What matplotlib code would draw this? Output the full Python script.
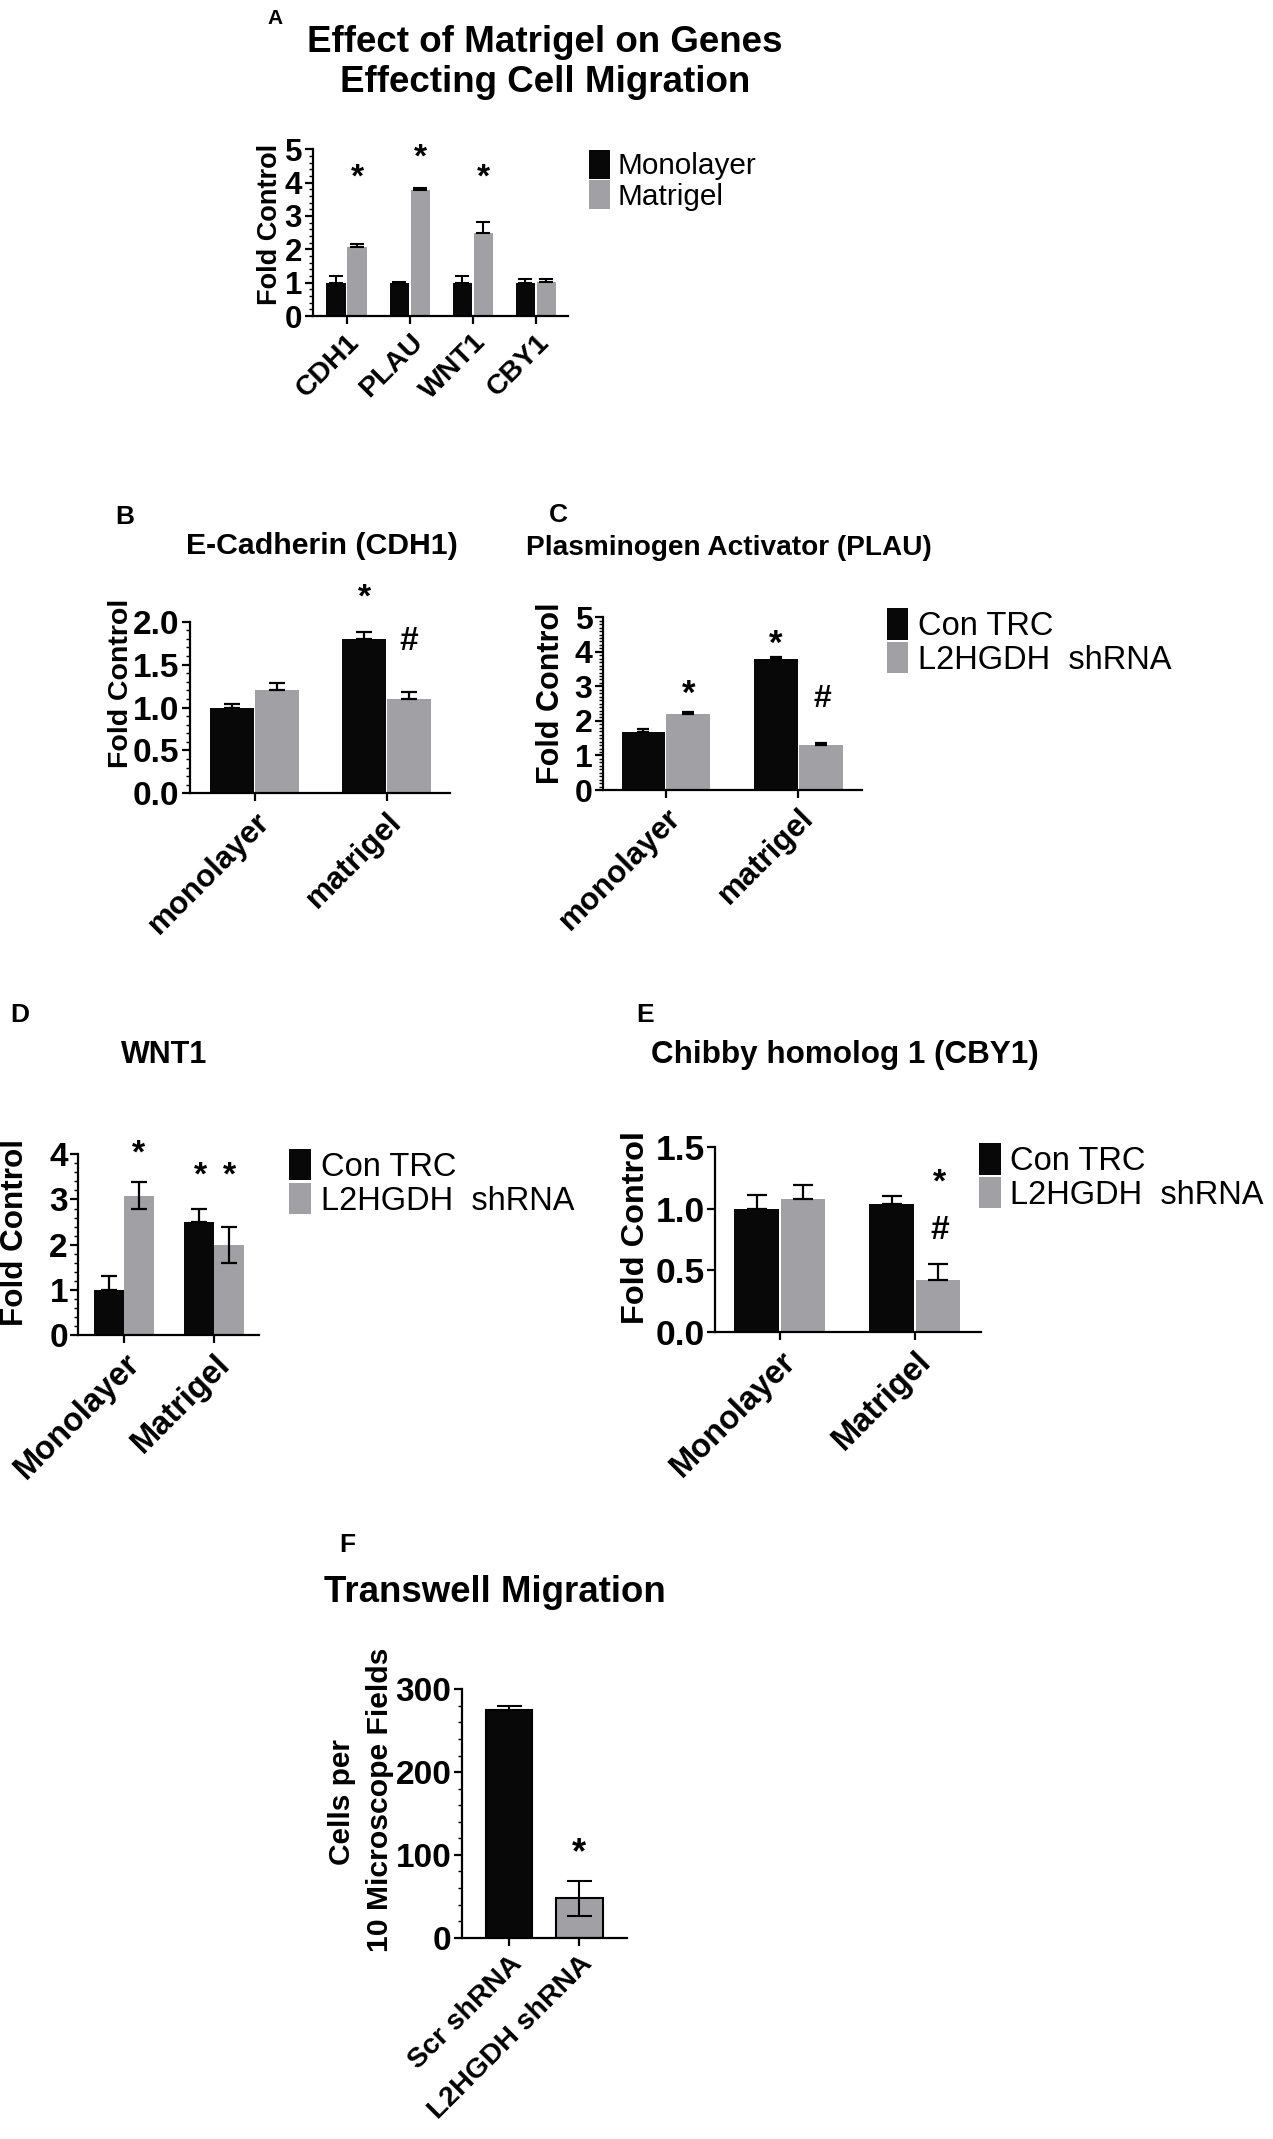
import matplotlib
matplotlib.use('Agg')
import matplotlib.pyplot as plt
from matplotlib.ticker import MultipleLocator, FormatStrFormatter
from matplotlib.patches import Patch
import numpy as np

plt.rcParams['font.family'] = ['Liberation Sans', 'DejaVu Sans']

W, H = 1273, 2139
BLACK = '#080808'
GRAY = '#a1a1a5'

# --- data ---
# A: Effect of Matrigel
genes = ['CDH1', 'PLAU', 'WNT1', 'CBY1']
a_mono = [1.0, 1.0, 1.0, 1.0]
a_mono_err = [0.2, 0.03, 0.2, 0.1]
a_matri = [2.08, 3.78, 2.5, 1.03]
a_matri_err = [0.07, 0.07, 0.33, 0.07]
a_star_y = [4.15, 4.75, 4.15]

# B-E: Con TRC vs L2HGDH shRNA
conds_lc = ['monolayer', 'matrigel']
conds = ['Monolayer', 'Matrigel']
b_con, b_con_err = [1.0, 1.8], [0.04, 0.08]
b_sh, b_sh_err = [1.2, 1.1], [0.08, 0.08]
c_con, c_con_err = [1.69, 3.78], [0.07, 0.08]
c_sh, c_sh_err = [2.19, 1.29], [0.06, 0.08]
d_con, d_con_err = [1.0, 2.5], [0.3, 0.3]
d_sh, d_sh_err = [3.08, 1.99], [0.3, 0.4]
e_con, e_con_err = [1.0, 1.04], [0.11, 0.06]
e_sh, e_sh_err = [1.08, 0.42], [0.11, 0.13]

# F: transwell
f_groups = ['Scr shRNA', 'L2HGDH shRNA']
f_vals = [275, 47.5]
f_err = [5, 21]

fig = plt.figure(figsize=(W / 100, H / 100), dpi=100)


def px(x, y):
    return x / W, 1 - y / H


def add_ax(x0, y0, x1, y1):
    return fig.add_axes([x0 / W, 1 - y1 / H, (x1 - x0) / W, (y1 - y0) / H])


def style(ax, ylim, major, minor, tsize, fmt=None):
    for s in ['top', 'right']:
        ax.spines[s].set_visible(False)
    for s in ['left', 'bottom']:
        ax.spines[s].set_linewidth(1.6)
    ax.set_ylim(*ylim)
    ax.yaxis.set_major_locator(MultipleLocator(major))
    if minor:
        ax.yaxis.set_minor_locator(MultipleLocator(minor))
    if fmt:
        ax.yaxis.set_major_formatter(FormatStrFormatter(fmt))
    ax.tick_params(which='major', length=6, width=1.6, labelsize=tsize)
    ax.tick_params(axis='y', which='major', pad=1.5)
    ax.tick_params(axis='y', which='minor', length=3, width=1)
    for lbl in ax.get_yticklabels():
        lbl.set_fontweight('bold')


def xlabels(ax, labels, size):
    ax.set_xticks(range(len(labels)))
    ax.set_xticklabels(labels, rotation=45, ha='right', va='top',
                       rotation_mode='anchor', fontweight='bold', fontsize=size)


def pair(ax, con, con_err, sh, sh_err, w=0.33, off=0.17, both=False, cap=5):
    x = np.arange(len(con))
    ax.bar(x - off, con, w, color=BLACK)
    ax.bar(x + off, sh, w, color=GRAY)
    ax.errorbar(x - off, con, yerr=[np.zeros(len(con)), con_err], fmt='none',
                ecolor='black', elinewidth=1.6, capsize=cap, capthick=1.6)
    lo = sh_err if both else np.zeros(len(sh))
    ax.errorbar(x + off, sh, yerr=[lo, sh_err], fmt='none',
                ecolor='black', elinewidth=1.6, capsize=cap, capthick=1.6)
    return x


def legend(ax, labels, x, y, size, hl, hh, pad):
    handles = [Patch(facecolor=c, edgecolor='none') for c in [BLACK, GRAY]]
    ax.legend(handles, labels, loc='upper left', bbox_to_anchor=px(x, y),
              bbox_transform=fig.transFigure, frameon=False, borderpad=0,
              borderaxespad=0, labelspacing=0, handlelength=hl,
              handleheight=hh, handletextpad=pad, prop={'size': size})


def ylab(text, x, y, size):
    fig.text(*px(x, y), text, rotation=90, ha='center', va='center',
             fontsize=size, fontweight='bold')


def title(text, x, y, size):
    fig.text(*px(x, y), text, ha='center', va='center', fontsize=size,
             fontweight='bold')


def mark(ax, x, y, s, size):
    ax.text(x, y, s, ha='center', va='center', fontsize=size, fontweight='bold')


# ---------------- Panel A ----------------
title('A', 275, 18, 15)
title('Effect of Matrigel on Genes', 545, 42, 26.5)
title('Effecting Cell Migration', 545, 83, 26.5)
axA = add_ax(312.5, 149.3, 567.5, 316)
x = np.arange(len(genes))
axA.bar(x - 0.167, a_mono, 0.305, color=BLACK)
axA.bar(x + 0.167, a_matri, 0.305, color=GRAY)
axA.errorbar(x - 0.167, a_mono, yerr=[np.zeros(4), a_mono_err], fmt='none',
             ecolor='black', elinewidth=1.5, capsize=5, capthick=1.5)
axA.errorbar(x + 0.167, a_matri, yerr=[np.zeros(4), a_matri_err], fmt='none',
             ecolor='black', elinewidth=1.5, capsize=5, capthick=1.5)
for i, yy in enumerate(a_star_y):
    mark(axA, i + 0.167, yy, '*', 24)
axA.set_xlim(-0.54, 3.5)
style(axA, (0, 5), 1, 0.2, 22.5)
xlabels(axA, genes, 20.5)
ylab('Fold Control', 270, 224, 19.5)
legend(axA, ['Monolayer', 'Matrigel'], 589, 150, 21.4, 0.71, 1.1, 0.24)

# ---------------- Panel B ----------------
title('B', 125, 517, 19)
title('E-Cadherin (CDH1)', 322, 546, 21.8)
axB = add_ax(190, 621.7, 450, 793.3)
pair(axB, b_con, b_con_err, b_sh, b_sh_err, w=0.33, off=0.17, cap=5.5)
mark(axB, 1 - 0.17, 2.27, '*', 24.5)
mark(axB, 1 + 0.17, 1.77, '#', 24)
axB.set_xlim(-0.49, 1.48)
style(axB, (0, 2.0), 0.5, 0.1, 24, '%.1f')
xlabels(axB, conds_lc, 22.5)
ylab('Fold Control', 121, 683, 20.5)

# ---------------- Panel C ----------------
title('C', 558, 515, 19)
title('Plasminogen Activator (PLAU)', 729, 548, 20.2)
axC = add_ax(602.7, 617.3, 861.7, 790)
pair(axC, c_con, c_con_err, c_sh, c_sh_err, w=0.33, off=0.168, cap=4.5)
mark(axC, 0 + 0.17, 2.78, '*', 25)
mark(axC, 1 - 0.17, 4.23, '*', 25)
mark(axC, 1 + 0.18, 2.64, '#', 23)
axC.set_xlim(-0.475, 1.477)
style(axC, (0, 5), 1, 0.1, 23)
xlabels(axC, conds_lc, 22.5)
ylab('Fold Control', 551, 693, 22)
legend(axC, ['Con TRC', 'L2HGDH  shRNA'], 886.7, 608.3, 23.5, 0.66, 1.1, 0.31)

# ---------------- Panel D ----------------
title('D', 20, 1015, 19)
title('WNT1', 164, 1055, 22)
axD = add_ax(78.3, 1154.3, 259.3, 1335)
pair(axD, d_con, d_con_err, d_sh, d_sh_err, w=0.332, off=0.166, both=True, cap=6)
mark(axD, 0 + 0.16, 4.0, '*', 24.5)
mark(axD, 1 - 0.15, 3.52, '*', 24.5)
mark(axD, 1 + 0.166, 3.52, '*', 24.5)
axD.set_xlim(-0.506, 1.498)
style(axD, (0, 4), 1, 0.2, 24)
xlabels(axD, conds, 23.5)
ylab('Fold Control', 15, 1233, 22.6)
legend(axD, ['Con TRC', 'L2HGDH  shRNA'], 289.3, 1149, 23.5, 0.66, 1.1, 0.31)

# ---------------- Panel E ----------------
title('E', 645, 1015, 19)
title('Chibby homolog 1 (CBY1)', 845, 1055, 22.6)
axE = add_ax(715, 1146.7, 981, 1332.3)
pair(axE, e_con, e_con_err, e_sh, e_sh_err, w=0.33, off=0.172, cap=7.5)
mark(axE, 1 + 0.185, 1.21, '*', 24.5)
mark(axE, 1 + 0.185, 0.826, '#', 24)
axE.set_xlim(-0.481, 1.489)
style(axE, (0, 1.5), 0.5, None, 25.5, '%.1f')
xlabels(axE, conds, 23.5)
ylab('Fold Control', 636, 1228, 23.4)
legend(axE, ['Con TRC', 'L2HGDH  shRNA'], 979.3, 1143.3, 23.5, 0.66, 1.1, 0.28)

# ---------------- Panel F ----------------
title('F', 347, 1545, 19)
title('Transwell Migration', 495, 1593, 26.4)
axF = add_ax(461.7, 1689.3, 626.7, 1937.7)
x = np.arange(len(f_groups))
axF.bar(x, f_vals, 0.66, color=[BLACK, GRAY], edgecolor='black', linewidth=1.5)
axF.errorbar(x, f_vals, yerr=[[0, f_err[1]], f_err], fmt='none', ecolor='black',
             elinewidth=1.5, capsize=9, capthick=1.5)
mark(axF, 1, 102, '*', 26)
axF.set_xlim(-0.673, 1.674)
style(axF, (0, 300), 100, 20, 24)
xlabels(axF, f_groups, 20.5)
ylab('Cells per', 342, 1802, 21.5)
ylab('10 Microscope Fields', 380, 1800, 21.7)

fig.savefig('out.png', dpi=100)
